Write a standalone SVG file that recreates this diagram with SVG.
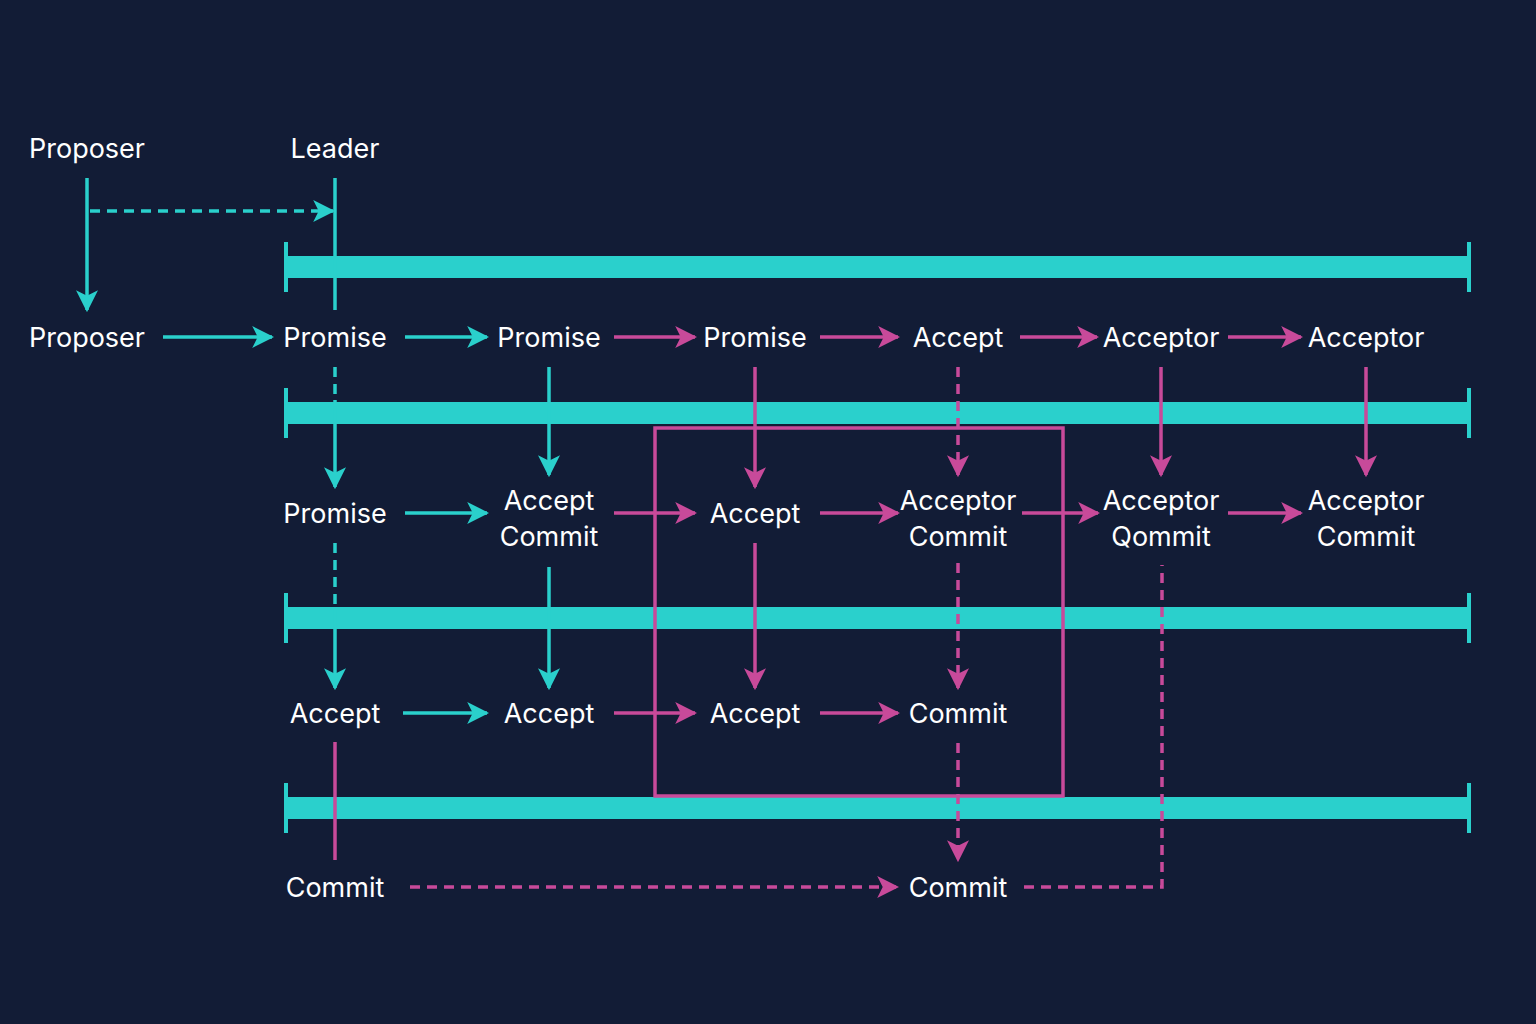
<svg xmlns="http://www.w3.org/2000/svg" width="1536" height="1024" viewBox="0 0 1536 1024">
<defs>
<marker id="ac" markerWidth="22" markerHeight="22" refX="9" refY="5" orient="auto" markerUnits="userSpaceOnUse" viewBox="0 0 10 10"><path d="M0,0 L10,5 L0,10 L2.5,5 Z" fill="#2ad0cc"/></marker>
<marker id="am" markerWidth="22" markerHeight="22" refX="9" refY="5" orient="auto" markerUnits="userSpaceOnUse" viewBox="0 0 10 10"><path d="M0,0 L10,5 L0,10 L2.5,5 Z" fill="#c84a9a"/></marker>
<style>
text{font-family:Inter,"Noto Sans",sans-serif;font-size:27px;fill:#ffffff;text-anchor:middle}
.c{stroke:#2ad0cc;stroke-width:3.5;fill:none}
.m{stroke:#c84a9a;stroke-width:3.5;fill:none}
.d{stroke-dasharray:10 7}
.bar{fill:#2ad0cc}
.ca{marker-end:url(#ac)}
.ma{marker-end:url(#am)}
</style>
</defs>
<rect width="1536" height="1024" fill="#121c36"/>
<g id="bars">
<rect class="bar" x="286" y="256" width="1183" height="22"/><rect class="bar" x="284" y="242" width="4" height="50"/><rect class="bar" x="1467" y="242" width="4" height="50"/>
<rect class="bar" x="286" y="402" width="1183" height="22"/><rect class="bar" x="284" y="388" width="4" height="50"/><rect class="bar" x="1467" y="388" width="4" height="50"/>
<rect class="bar" x="286" y="607" width="1183" height="22"/><rect class="bar" x="284" y="593" width="4" height="50"/><rect class="bar" x="1467" y="593" width="4" height="50"/>
<rect class="bar" x="286" y="797" width="1183" height="22"/><rect class="bar" x="284" y="783" width="4" height="50"/><rect class="bar" x="1467" y="783" width="4" height="50"/>
</g>
<rect id="box" x="655" y="428" width="408" height="368" class="m"/>
<g id="connectors">
<path class="c ca" d="M87,178 V310"/>
<path class="c d ca" d="M90,211 H333"/>
<path class="c" d="M335,178 V310"/>
<path class="c ca" d="M163,337 H272"/>
<path class="c ca" d="M405,337 H487"/>
<path class="m ma" d="M614,337 H695"/>
<path class="m ma" d="M820,337 H898"/>
<path class="m ma" d="M1020,337 H1097"/>
<path class="m ma" d="M1228,337 H1301"/>
<path class="c ca" d="M405,513 H487"/>
<path class="m ma" d="M614,513 H695"/>
<path class="m ma" d="M820,513 H898"/>
<path class="m ma" d="M1022,513 H1098"/>
<path class="m ma" d="M1228,513 H1301"/>
<path class="c ca" d="M403,713 H487"/>
<path class="m ma" d="M614,713 H695"/>
<path class="m ma" d="M820,713 H898"/>
<path class="m d ma" d="M410,887 H897"/>
<path class="m d" d="M1024,887 H1162 V565"/>
<path class="c d" d="M335,367 V400"/>
<path class="c ca" d="M335,400 V487"/>
<path class="c d" d="M335,543 V610"/>
<path class="c ca" d="M335,610 V688"/>
<path class="m" d="M335,742 V860"/>
<path class="c ca" d="M549,367 V475"/>
<path class="c ca" d="M549,567 V688"/>
<path class="m ma" d="M755,367 V487"/>
<path class="m ma" d="M755,543 V688"/>
<path class="m d ma" d="M958,367 V475"/>
<path class="m d ma" d="M958,563 V688"/>
<path class="m d ma" d="M958,743 V860"/>
<path class="m ma" d="M1161,367 V475"/>
<path class="m ma" d="M1366,367 V475"/>
</g>
<g id="labels">
<text x="87" y="158">Proposer</text>
<text x="335" y="158">Leader</text>
<text x="87" y="347">Proposer</text>
<text x="335" y="347">Promise</text>
<text x="549" y="347">Promise</text>
<text x="755" y="347">Promise</text>
<text x="958" y="347">Accept</text>
<text x="1161" y="347">Acceptor</text>
<text x="1366" y="347">Acceptor</text>
<text x="335" y="523">Promise</text>
<text x="549" y="510">Accept</text><text x="549" y="546">Commit</text>
<text x="755" y="523">Accept</text>
<text x="958" y="510">Acceptor</text><text x="958" y="546">Commit</text>
<text x="1161" y="510">Acceptor</text><text x="1161" y="546">Qommit</text>
<text x="1366" y="510">Acceptor</text><text x="1366" y="546">Commit</text>
<text x="335" y="723">Accept</text>
<text x="549" y="723">Accept</text>
<text x="755" y="723">Accept</text>
<text x="958" y="723">Commit</text>
<text x="335" y="897">Commit</text>
<text x="958" y="897">Commit</text>
</g>
</svg>
